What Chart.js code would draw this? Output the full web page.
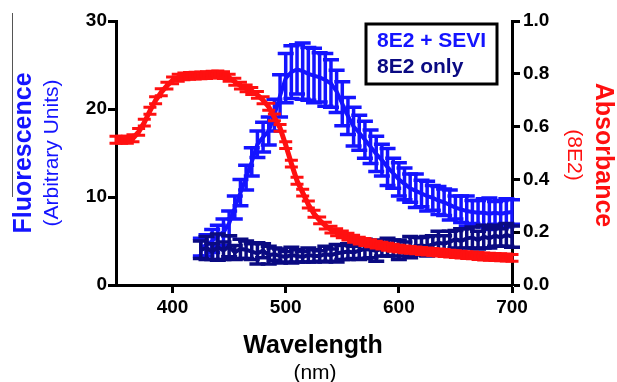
<!DOCTYPE html>
<html>
<head>
<meta charset="utf-8">
<script src="https://cdn.jsdelivr.net/npm/chart.js@4.4.0/dist/chart.umd.min.js"></script>
<style>
  html, body { margin: 0; padding: 0; background: #fff; }
</style>
</head>
<body>
<canvas id="chart" width="617" height="382"></canvas>
<script>
// absorbance of 8E2 (right axis)
const absWl = [350, 355, 360, 365, 370, 375, 380, 385, 390, 395, 400, 405, 410, 415, 420, 425, 430, 435, 440, 445,
  450, 455, 460, 465, 470, 475, 480, 485, 490, 495, 500, 505, 510, 515, 520, 525, 530, 535, 540, 545,
  550, 555, 560, 565, 570, 575, 580, 585, 590, 595, 600, 605, 610, 615, 620, 625, 630, 635, 640, 645,
  650, 655, 660, 665, 670, 675, 680, 685, 690, 695, 700]
const absorbance = [0.55, 0.55, 0.55, 0.556, 0.58, 0.615, 0.66, 0.70, 0.73, 0.755, 0.775, 0.785, 0.79, 0.792, 0.793, 0.794, 0.795, 0.797, 0.798, 0.795,
  0.785, 0.77, 0.755, 0.745, 0.735, 0.72, 0.70, 0.675, 0.635, 0.595, 0.53, 0.46, 0.395, 0.35, 0.305, 0.27, 0.245, 0.225, 0.21, 0.20,
  0.192, 0.183, 0.175, 0.168, 0.163, 0.158, 0.153, 0.149, 0.145, 0.141, 0.138, 0.135, 0.133, 0.131, 0.129, 0.127, 0.125, 0.123, 0.121, 0.119,
  0.117, 0.115, 0.113, 0.112, 0.11, 0.108, 0.107, 0.106, 0.105, 0.104, 0.103]
const absErr = 0.013

// fluorescence (left axis)
const flWl = [425, 430, 435, 440, 445, 450, 455, 460, 465, 470, 475, 480, 485, 490, 495, 500, 505, 510, 515, 520,
  525, 530, 535, 540, 545, 550, 555, 560, 565, 570, 575, 580, 585, 590, 595, 600, 605, 610, 615, 620,
  625, 630, 635, 640, 645, 650, 655, 660, 665, 670, 675, 680, 685, 690, 695, 700]
const sevi = [4.3, 4.5, 5.0, 5.6, 6.0, 7.0, 8.8, 10.5, 12.2, 14.0, 16.0, 16.8, 17.5, 19.3, 21.5, 23.5, 24.2, 24.5, 24.3, 24.0,
  23.8, 23.6, 23.3, 22.9, 22.0, 20.6, 19.2, 18.0, 17.3, 16.5, 15.7, 14.9, 14.2, 13.4, 12.7, 12.0, 11.5, 11.0, 10.7, 10.4,
  10.1, 9.9, 9.6, 9.4, 9.1, 8.8, 8.6, 8.4, 8.3, 8.2, 8.2, 8.1, 8.2, 8.1, 8.2, 8.3]
const seviErr = [1.0, 1.2, 1.3, 1.2, 1.5, 1.4, 1.3, 1.5, 1.4, 1.6, 1.5, 1.7, 1.6, 1.8, 2.4, 2.8, 3.0, 2.8, 3.2, 3.0,
  3.1, 2.8, 3.0, 2.7, 2.4, 2.5, 2.1, 2.2, 2.0, 2.1, 1.9, 2.0, 1.8, 2.1, 1.7, 1.9, 1.8, 1.6, 1.9, 1.5,
  1.7, 1.4, 1.6, 1.5, 1.7, 1.3, 1.5, 1.7, 1.3, 1.4, 1.6, 1.8, 1.3, 1.5, 1.6, 1.4]
const only = [4.0, 4.2, 3.8, 4.3, 3.9, 4.4, 3.7, 4.1, 4.0, 3.8, 3.6, 3.9, 3.4, 3.5, 3.3, 3.2, 3.4, 3.3, 3.2, 3.4,
  3.3, 3.3, 3.5, 3.4, 3.6, 3.7, 3.8, 3.7, 3.9, 4.1, 4.0, 3.9, 4.1, 4.3, 4.2, 4.0, 4.1, 4.3, 4.4, 4.5,
  4.4, 4.6, 4.8, 4.7, 4.9, 5.2, 5.0, 5.3, 5.4, 5.1, 5.5, 5.3, 5.6, 5.4, 5.7, 5.5]
const onlyErr = [1.0, 1.3, 0.9, 1.5, 1.0, 1.2, 0.8, 1.1, 1.0, 0.9, 1.2, 0.8, 1.0, 0.7, 0.8, 0.6, 0.9, 0.7, 0.6, 0.8,
  0.7, 0.6, 0.9, 0.7, 1.0, 0.8, 0.9, 0.7, 1.0, 1.1, 0.9, 1.2, 0.8, 1.0, 0.9, 1.1, 0.8, 1.2, 1.0, 0.9,
  1.1, 1.0, 1.3, 0.9, 1.2, 1.0, 1.4, 1.1, 1.2, 1.0, 1.3, 1.1, 1.2, 1.0, 1.3, 1.2]

const xTicks = [400, 500, 600, 700]
const legendItems = ['8E2 + SEVI', '8E2 only']

const BLUE = '#1414ff'
const NAVY = '#0a0a82'
const RED = '#ff1010'
const FONT = '"Liberation Sans", Arial, sans-serif'

const pts = (xs, ys) => xs.map((x, i) => ({ x, y: ys[i] }))

const errorBars = {
  id: 'errorBars',
  afterDatasetDraw(chart, args) {
    const ds = chart.data.datasets[args.index]
    if (ds.errors == null) return
    const ctx = chart.ctx
    const xs = chart.scales.x
    const ys = chart.scales[ds.yAxisID]
    const c = ds.capSize / 2
    ctx.save()
    ctx.strokeStyle = ds.borderColor
    ctx.lineWidth = ds.errWidth
    ds.data.forEach((p, i) => {
      const e = Array.isArray(ds.errors) ? ds.errors[i] : ds.errors
      const x = xs.getPixelForValue(p.x)
      const lo = ys.getPixelForValue(p.y - e)
      const hi = ys.getPixelForValue(p.y + e)
      ctx.beginPath()
      ctx.moveTo(x, lo); ctx.lineTo(x, hi)
      ctx.moveTo(x - c, lo); ctx.lineTo(x + c, lo)
      ctx.moveTo(x - c, hi); ctx.lineTo(x + c, hi)
      ctx.stroke()
    })
    ctx.restore()
  }
}

// axis titles + legend box
const decorations = {
  id: 'decorations',
  afterDraw(chart) {
    const ctx = chart.ctx
    const txt = (s, x, y, font, color, rot) => {
      ctx.save()
      ctx.translate(x, y)
      ctx.rotate(rot || 0)
      ctx.font = font
      ctx.fillStyle = color
      ctx.textAlign = 'center'
      ctx.textBaseline = 'middle'
      ctx.fillText(s, 0, 0)
      ctx.restore()
    }
    txt('Fluorescence', 24, 153, 'bold 25px ' + FONT, BLUE, -Math.PI / 2)
    txt('(Arbitrary Units)', 52, 153, '21px ' + FONT, BLUE, -Math.PI / 2)
    txt('Absorbance', 603, 155, 'bold 25px ' + FONT, RED, Math.PI / 2)
    txt('(8E2)', 574, 155, '21px ' + FONT, RED, Math.PI / 2)
    txt('Wavelength', 313, 346, 'bold 25px ' + FONT, '#000')
    txt('(nm)', 315, 373, '21px ' + FONT, '#000')

    // thin stray rule beside the left title
    ctx.save()
    ctx.strokeStyle = '#555'
    ctx.lineWidth = 1
    ctx.beginPath()
    ctx.moveTo(12.5, 13); ctx.lineTo(12.5, 197)
    ctx.stroke()

    // legend
    ctx.lineWidth = 3
    ctx.strokeStyle = '#000'
    ctx.fillStyle = '#fff'
    ctx.fillRect(366, 24, 131, 60)
    ctx.strokeRect(366, 24, 131, 60)
    ctx.font = 'bold 21px ' + FONT
    ctx.textBaseline = 'middle'
    ctx.textAlign = 'left'
    ctx.fillStyle = BLUE
    ctx.fillText(legendItems[0], 377, 41)
    ctx.fillStyle = NAVY
    ctx.fillText(legendItems[1], 377, 67)
    ctx.restore()
  }
}

const axisStyle = {
  grid: { drawOnChartArea: false, drawTicks: true, tickLength: 8, tickWidth: 3, color: '#000' },
  border: { display: true, width: 3, color: '#000' },
}

new Chart(document.getElementById('chart'), {
  type: 'line',
  data: {
    datasets: [
      {
        label: 'Absorbance',
        data: pts(absWl, absorbance),
        yAxisID: 'y2',
        borderColor: RED,
        borderWidth: 5,
        pointRadius: 0,
        errors: absErr,
        capSize: 13,
        errWidth: 3,
        clip: false,
      },
      {
        label: legendItems[1],
        data: pts(flWl, only),
        yAxisID: 'y',
        borderColor: NAVY,
        borderWidth: 4,
        pointRadius: 0,
        errors: onlyErr,
        capSize: 16,
        errWidth: 3.5,
        clip: false,
      },
      {
        label: legendItems[0],
        data: pts(flWl, sevi),
        yAxisID: 'y',
        borderColor: BLUE,
        borderWidth: 4,
        pointRadius: 0,
        errors: seviErr,
        capSize: 16,
        errWidth: 3.5,
        clip: false,
      },
    ]
  },
  options: {
    responsive: false,
    animation: false,
    layout: { padding: { top: 21, left: 0, right: 0, bottom: 0 } },
    plugins: { legend: { display: false }, tooltip: { enabled: false } },
    scales: {
      x: {
        type: 'linear',
        min: 350,
        max: 700,
        ...axisStyle,
        afterBuildTicks: s => { s.ticks = xTicks.map(v => ({ value: v })) },
        afterFit: s => { s.height = 97 },
        ticks: { color: '#000', padding: 3, font: { family: FONT, size: 19, weight: 'bold' } },
      },
      y: {
        position: 'left',
        min: 0,
        max: 30,
        ...axisStyle,
        afterFit: s => { s.width = 116 },
        ticks: { stepSize: 10, color: '#000', padding: 1, font: { family: FONT, size: 19, weight: 'bold' } },
      },
      y2: {
        position: 'right',
        min: 0,
        max: 1,
        ...axisStyle,
        afterFit: s => { s.width = 105 },
        ticks: {
          stepSize: 0.2, color: '#000', padding: 3,
          font: { family: FONT, size: 19, weight: 'bold' },
          callback: v => v.toFixed(1),
        },
      },
    }
  },
  plugins: [errorBars, decorations]
})
</script>
</body>
</html>
